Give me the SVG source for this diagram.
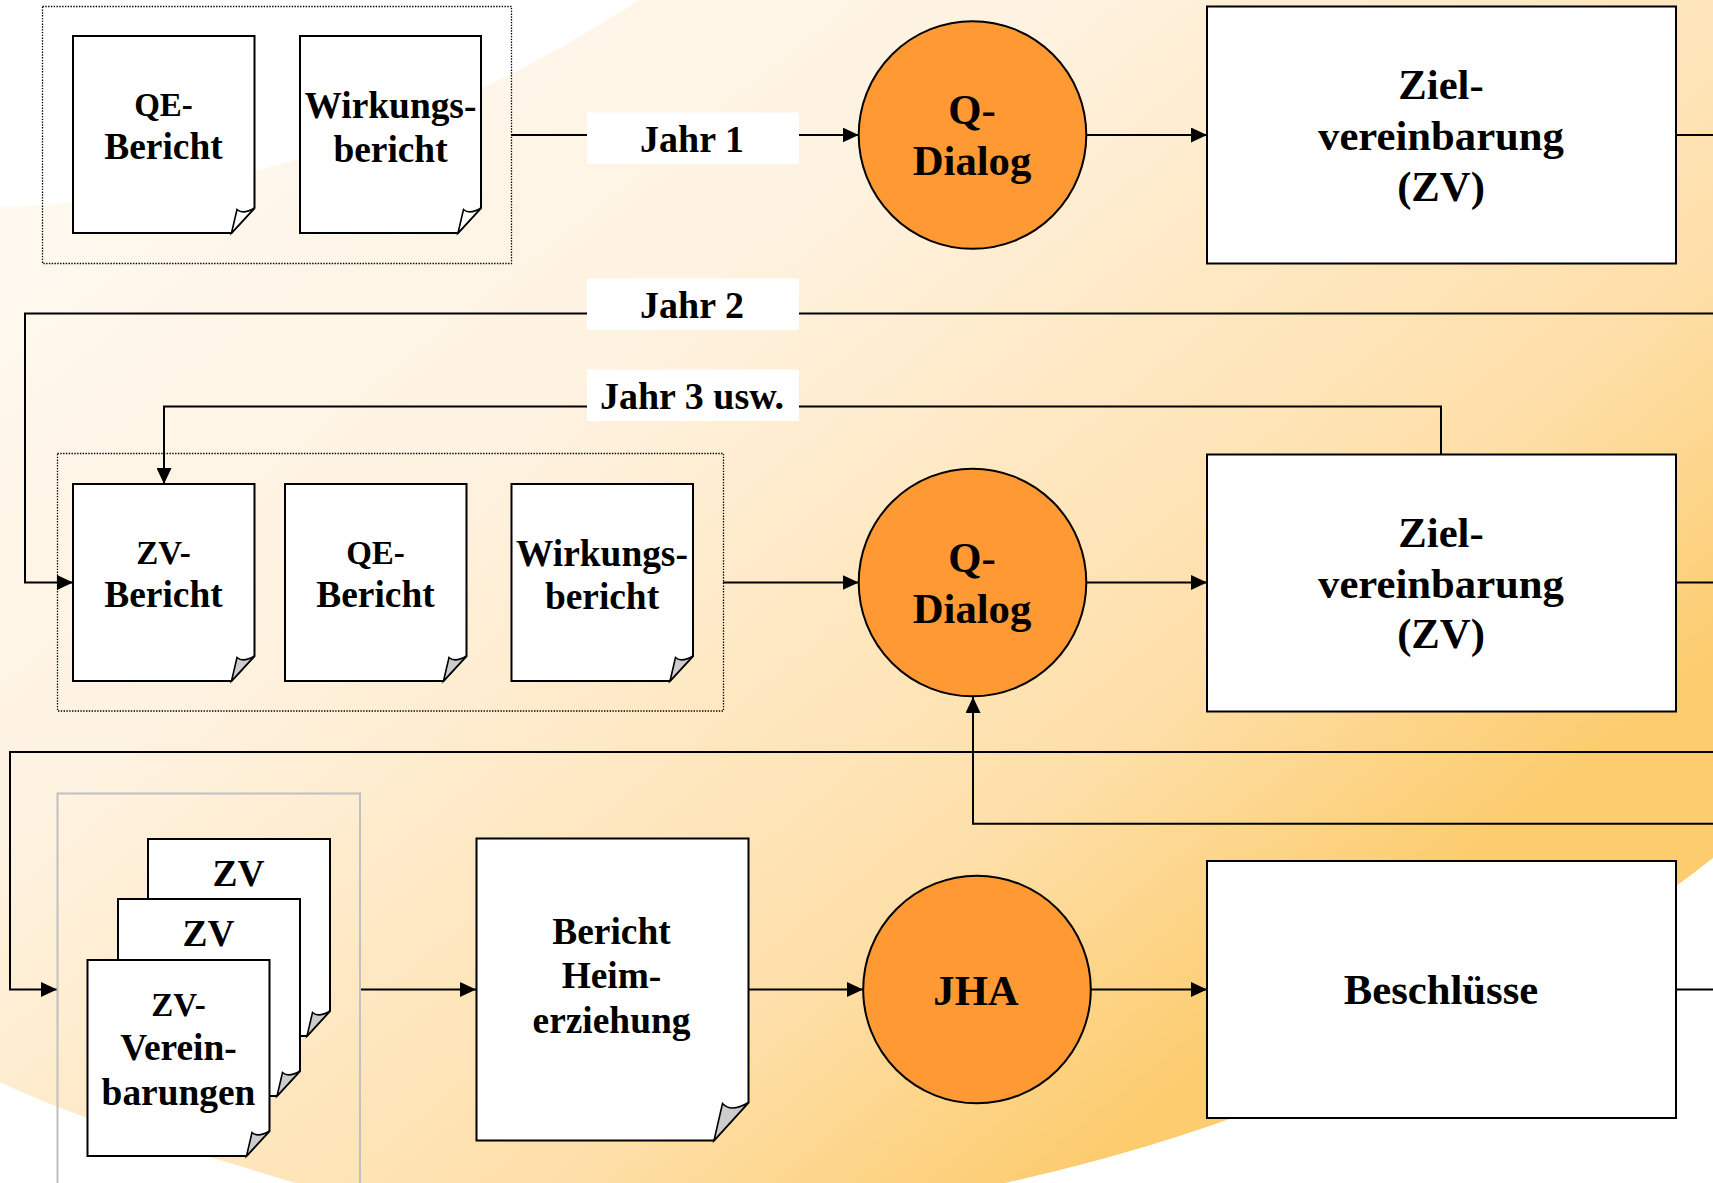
<svg xmlns="http://www.w3.org/2000/svg" width="1713" height="1183" viewBox="0 0 1713 1183">
<style>
text{font-family:"Liberation Serif","Times New Roman",serif;font-weight:700;fill:#000;text-anchor:middle}
.s{font-size:33px}.m{font-size:37.400px}.j{font-size:38px}.l{font-size:42.700px}
.doc{fill:#fff;stroke:#000;stroke-width:2;stroke-linejoin:miter}
.flap{fill:#fff;stroke:#000;stroke-width:1.6;stroke-linejoin:miter}
.flapg{fill:#ccc;stroke:#000;stroke-width:1.6;stroke-linejoin:miter}
.box{fill:#fff;stroke:#000;stroke-width:2}
.circ{fill:#ff9933;stroke:#000;stroke-width:2}
.dot{fill:none;stroke:#000;stroke-width:1.300;stroke-dasharray:1.400 1.400}
.lab{fill:#fff;stroke:none}
.c{fill:none;stroke:#000;stroke-width:2}
.a{marker-end:url(#ah)}
</style>
<defs>
<linearGradient id="bg" gradientUnits="userSpaceOnUse" x1="259" y1="6" x2="1150" y2="1117">
<stop offset="0" stop-color="#fff9f0"/><stop offset="0.35" stop-color="#fef2e0"/><stop offset="0.78" stop-color="#fedfa8"/><stop offset="1" stop-color="#fccc6e"/>
</linearGradient>
<marker id="ah" markerUnits="userSpaceOnUse" markerWidth="16" markerHeight="15" refX="16" refY="7.500" orient="auto"><path d="M0,0L16,7.500L0,15Z" fill="#000"/></marker>
</defs>
<rect width="1713" height="1183" fill="#fff"/>
<path id="background" fill="url(#bg)" d="M0,207C250,200 470,110 639,0H1713V858C1520,1010 1270,1125 1005,1183H295C190,1150 90,1125 0,1082Z"/>
<g id="connectors">
<path class="c a" d="M511,135H858.700"/>
<path class="c a" d="M1087,135H1207"/>
<path class="c" d="M1676,135H1713"/>
<path class="c a" d="M1713,313.500H25V582.500H73"/>
<path class="c a" d="M1441,454.500V406.400H164V484"/>
<path class="c a" d="M723,582.500H858.700"/>
<path class="c a" d="M1087,582.500H1207"/>
<path class="c" d="M1676,582.500H1713"/>
<path class="c a" d="M1713,752H10V989.500H57"/>
<path class="c a" d="M1713,823.700H973V697"/>
<path class="c a" d="M359,989.500H476"/>
<path class="c a" d="M748,989.500H863"/>
<path class="c a" d="M1091,989.500H1207"/>
<path class="c" d="M1676,989.500H1713"/>
</g>
<g id="group-1"><rect class="dot" x="42.500" y="6.500" width="469" height="257"/></g>
<g id="group-2"><rect class="dot" x="57.500" y="453.500" width="666" height="257.500"/></g>
<g id="group-3"><path d="M57.500,1190V793.500H360V1190" fill="none" stroke="#c0c0c0" stroke-width="2"/></g>
<g id="doc-qe-1">
<path class="doc" d="M73,36H254.500V208L231.500,233H73Z"/><path class="flap" d="M231.500,233L237,209.500Q243,215 254.500,208Z"/>
<text class="s" x="163.500" y="116">QE-</text><text class="m" x="163.500" y="159">Bericht</text></g>
<g id="doc-wirkung-1">
<path class="doc" d="M300,36H481V208L458,233H300Z"/><path class="flap" d="M458,233L463.500,209.500Q469.500,215 481,208Z"/>
<text class="m" x="390.500" y="118">Wirkungs-</text><text class="m" x="390.500" y="162">bericht</text></g>
<g id="label-jahr1"><rect class="lab" x="587" y="112.500" width="212" height="51.500"/><text class="j" x="692" y="152">Jahr 1</text></g>
<g id="circle-dialog-1"><circle class="circ" cx="972.500" cy="135" r="113.800"/><text class="l" x="972" y="124">Q-</text><text class="l" x="972" y="175">Dialog</text></g>
<g id="zv-1"><rect class="box" x="1207" y="6.500" width="469" height="257"/><text class="l" x="1441" y="98.500">Ziel-</text><text class="l" x="1441" y="150">vereinbarung</text><text class="l" x="1441" y="201">(ZV)</text></g>
<g id="label-jahr2"><rect class="lab" x="587" y="278.500" width="212" height="51.500"/><text class="j" x="692" y="318">Jahr 2</text></g>
<g id="label-jahr3"><rect class="lab" x="587" y="369.500" width="212" height="51.500"/><text class="j" x="692" y="408.500">Jahr 3 usw.</text></g>
<g id="doc-zv-2">
<path class="doc" d="M73,484H254.500V656L231.500,681H73Z"/><path class="flapg" d="M231.500,681L237,657.500Q243,663 254.500,656Z"/>
<text class="s" x="163.500" y="563.500">ZV-</text><text class="m" x="163.500" y="607">Bericht</text></g>
<g id="doc-qe-2">
<path class="doc" d="M285,484H466.500V656L443.500,681H285Z"/><path class="flapg" d="M443.500,681L449,657.500Q455,663 466.500,656Z"/>
<text class="s" x="375.500" y="563.500">QE-</text><text class="m" x="375.500" y="607">Bericht</text></g>
<g id="doc-wirkung-2">
<path class="doc" d="M511.500,484H693V656L670,681H511.500Z"/><path class="flapg" d="M670,681L675.500,657.500Q681.500,663 693,656Z"/>
<text class="m" x="602" y="565.500">Wirkungs-</text><text class="m" x="602" y="609">bericht</text></g>
<g id="circle-dialog-2"><circle class="circ" cx="972.500" cy="582.500" r="113.800"/><text class="l" x="972" y="572">Q-</text><text class="l" x="972" y="623">Dialog</text></g>
<g id="zv-2"><rect class="box" x="1207" y="454.500" width="469" height="257"/><text class="l" x="1441" y="546.500">Ziel-</text><text class="l" x="1441" y="598">vereinbarung</text><text class="l" x="1441" y="648">(ZV)</text></g>
<g id="doc-zv-a">
<path class="doc" d="M148,839H330V1011L307,1036H148Z"/><path class="flapg" d="M307,1036L312.500,1012.500Q318.500,1018 330,1011Z"/>
<text class="m" x="238.500" y="886">ZV</text></g>
<g id="doc-zv-b">
<path class="doc" d="M118,899H300V1071L277,1096H118Z"/><path class="flapg" d="M277,1096L282.500,1072.500Q288.500,1078 300,1071Z"/>
<text class="m" x="208.500" y="946">ZV</text></g>
<g id="doc-zv-c">
<path class="doc" d="M87.500,960H269.500V1131L246.500,1156H87.500Z"/><path class="flapg" d="M246.500,1156L252,1132.500Q258,1138 269.500,1131Z"/>
<text class="s" x="178.500" y="1015.500">ZV-</text><text class="m" x="178.500" y="1059.500">Verein-</text><text class="m" x="178.500" y="1104.500">barungen</text></g>
<g id="doc-bericht">
<path class="doc" d="M476.500,838.500H748.500V1102.500L714,1140.500H476.500Z"/><path class="flapg" d="M714,1140.500L722.500,1103.500Q731,1113 748.500,1102.500Z"/>
<text class="m" x="611.500" y="944">Bericht</text><text class="m" x="611.500" y="987.500">Heim-</text><text class="m" x="611.500" y="1033">erziehung</text></g>
<g id="circle-jha"><circle class="circ" cx="977" cy="989.500" r="113.800"/><text class="l" x="976" y="1005">JHA</text></g>
<g id="beschluesse"><rect class="box" x="1207" y="861" width="469" height="257"/><text class="l" x="1441" y="1004">Beschlüsse</text></g>
</svg>
